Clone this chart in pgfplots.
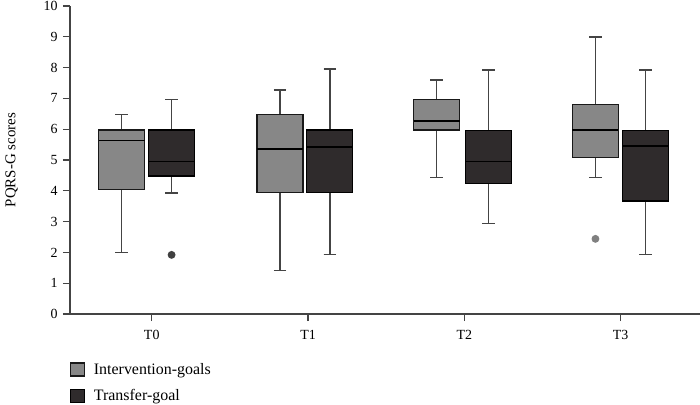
\documentclass[border=0pt]{standalone}
\usepackage{fontspec}
\setmainfont{Liberation Serif}
\usepackage{pgfplots}
\pgfplotsset{compat=1.18}
\usepgfplotslibrary{statistics}

\definecolor{intGray}{HTML}{878787}
\definecolor{trDark}{HTML}{2F2B2C}
\definecolor{axGray}{HTML}{444444}

\begin{document}
\begin{tikzpicture}
\begin{axis}[
  name=ax,
  scale only axis,
  width=630bp, height=308bp,
  xmin=-0.523, xmax=3.508,
  ymin=0, ymax=10,
  axis x line=bottom, axis y line=left,
  axis line style={axGray, line width=1.1pt, -},
  xtick={0,1,2,3},
  xticklabels={T0,T1,T2,T3},
  ytick={0,1,...,10},
  tick align=outside,
  major tick length=7bp,
  tick style={axGray, line width=1.1pt},
  /pgf/number format/assume math mode=true,
  ticklabel style={font=\fontsize{14}{16}\selectfont},
  yticklabel style={xshift=-2bp},
  xticklabel style={yshift=-6bp},
  ylabel={PQRS-G scores},
  ylabel style={font=\fontsize{15}{17}\selectfont, yshift=19bp},
  boxplot/draw direction=y,
  boxplot/box extend=0.294,
  boxplot/whisker extend=0.08,
  legend style={draw=none, at={(0,0)}, anchor=north west, yshift=-45bp, xshift=-3bp,
    font=\fontsize{16}{18}\selectfont, row sep=10bp},
  legend cell align=left,
  legend image code/.code={\draw[#1, line width=1.1pt] (0bp,-6.5bp) rectangle (14bp,6.5bp); \path (21bp,0bp);},
]
\pgfplotsset{intbox/.style={solid, draw=black!90, line width=1.4pt, fill=intGray,
  mark=*, mark size=3.2pt, mark options={fill=gray, draw=gray},
  boxplot/every whisker/.style={draw=axGray, line width=1.5pt},
  boxplot/every median/.style={draw=black, line width=1.5pt}}}
\pgfplotsset{trbox/.style={solid, draw=black, line width=1.4pt, fill=trDark,
  mark=*, mark size=3.2pt, mark options={fill=black!75, draw=black!75},
  boxplot/every whisker/.style={draw=axGray, line width=1.5pt},
  boxplot/every median/.style={draw=black, line width=1.5pt}}}

% T0
\addplot[intbox, forget plot, boxplot prepared={draw position=-0.193,
  lower whisker=2.0, lower quartile=4.05, median=5.63, upper quartile=5.97, upper whisker=6.48}]
  coordinates {};
\addplot[trbox, forget plot, boxplot prepared={draw position=0.127,
  lower whisker=3.93, lower quartile=4.48, median=4.95, upper quartile=5.97, upper whisker=6.97}]
  table[row sep=\\, y index=0] {1.92\\};
% T1
\addplot[intbox, forget plot, boxplot prepared={draw position=0.821,
  lower whisker=1.42, lower quartile=3.94, median=5.35, upper quartile=6.48, upper whisker=7.28}]
  coordinates {};
\addplot[trbox, forget plot, boxplot prepared={draw position=1.139,
  lower whisker=1.94, lower quartile=3.94, median=5.43, upper quartile=5.97, upper whisker=7.95}]
  coordinates {};
% T2
\addplot[intbox, forget plot, boxplot prepared={draw position=1.823,
  lower whisker=4.43, lower quartile=5.97, median=6.26, upper quartile=6.96, upper whisker=7.6}]
  coordinates {};
\addplot[trbox, forget plot, boxplot prepared={draw position=2.154,
  lower whisker=2.94, lower quartile=4.23, median=4.95, upper quartile=5.96, upper whisker=7.93}]
  coordinates {};
% T3
\addplot[intbox, forget plot, boxplot prepared={draw position=2.839,
  lower whisker=4.43, lower quartile=5.09, median=5.97, upper quartile=6.8, upper whisker=9.0}]
  table[row sep=\\, y index=0] {2.44\\};
\addplot[trbox, forget plot, boxplot prepared={draw position=3.158,
  lower whisker=1.93, lower quartile=3.67, median=5.45, upper quartile=5.95, upper whisker=7.93}]
  coordinates {};

\addlegendimage{draw=black!90, fill=intGray}
\addlegendentry{Intervention-goals}
\addlegendimage{draw=black, fill=trDark}
\addlegendentry{Transfer-goal}
\end{axis}
\pgfresetboundingbox
\path[use as bounding box] (-70bp,-91bp) rectangle (630bp,314bp);
\end{tikzpicture}
\end{document}
